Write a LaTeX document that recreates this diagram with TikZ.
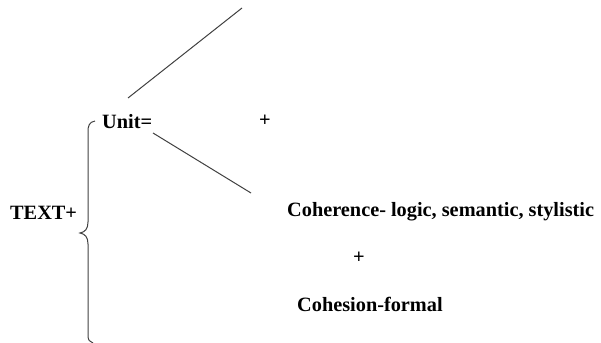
\documentclass[tikz,border=0pt]{standalone}
\usepackage{fontspec}
\setmainfont{Liberation Serif}
\begin{document}
\begin{tikzpicture}[x=1pt,y=-1pt,
  lbl/.style={font=\fontsize{20.3}{23}\selectfont\bfseries, inner sep=0pt},
  ln/.style={draw=black!75, line width=1pt}]
\useasboundingbox (0,0) rectangle (601,342);
\node[lbl, anchor=west] (text) at (10,213) {TEXT+};
\node[lbl, anchor=west] (unit) at (102,122) {Unit=};
\node[lbl] (plus1) at (265,121) {+};
\node[lbl, anchor=west] (coh) at (287,212) {Coherence- logic, semantic, stylistic};
\node[lbl] (plus2) at (359,258) {+};
\node[lbl, anchor=west] (cohes) at (297,304) {Cohesion-formal};
\coordinate (top) at (242,8);
\coordinate (l1s) at (128,98);
\coordinate (l2s) at (153,133);
\coordinate (l2e) at (251,193);
\draw[ln] (l1s) -- (top);
\draw[ln] (l2s) -- (l2e);
% brace
\draw[ln] (95,121) .. controls (89,122) and (88,126) .. (88,132)
  -- (88,222) .. controls (88,229) and (85,232) .. (80,233)
  .. controls (85,234) and (88,237) .. (88,244)
  -- (88,336) .. controls (88,340) and (90,342) .. (93,343);
\end{tikzpicture}
\end{document}
